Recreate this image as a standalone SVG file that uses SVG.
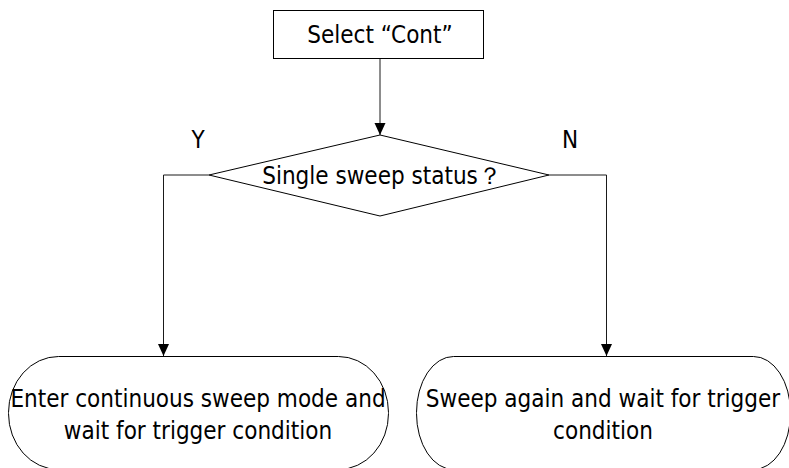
<svg xmlns="http://www.w3.org/2000/svg" width="789" height="468" viewBox="0 0 789 468">
<style>
.shape{fill:#fff;stroke:#000;stroke-width:1}
.conn{fill:none;stroke:#1a1a1a;stroke-width:1}
text{font-family:"DejaVu Sans Condensed","DejaVu Sans",sans-serif;font-stretch:condensed;font-size:24px;fill:#000;text-anchor:middle}
</style>
<defs>
<marker id="arr" markerWidth="12" markerHeight="12" refX="12" refY="6" orient="auto" markerUnits="userSpaceOnUse">
<path d="M0,0.5 L12,6 L0,11.5 Z" fill="#000"/>
</marker>
</defs>
<rect width="789" height="468" fill="#fff"/>
<g id="connectors">
<line class="conn" x1="380" y1="58" x2="380" y2="135" marker-end="url(#arr)"/>
<polyline class="conn" points="209,175 163.5,175 163.5,356" marker-end="url(#arr)"/>
<polyline class="conn" points="549,175 606.5,175 606.5,356" marker-end="url(#arr)"/>
</g>
<g id="start">
<rect class="shape" x="273.5" y="10.5" width="210" height="48"/>
<text x="380" y="43">Select “Cont”</text>
</g>
<g id="decision">
<polygon class="shape" points="380,135 549,175 380,216 209,175"/>
<text x="382" y="184">Single sweep status？</text>
</g>
<text x="198" y="148">Y</text>
<text x="570" y="148">N</text>
<g id="enter-continuous">
<rect class="shape" x="8.5" y="356.5" width="380" height="113" rx="50" ry="56"/>
<text x="198" y="407">Enter continuous sweep mode and</text>
<text x="198" y="439">wait for trigger condition</text>
</g>
<g id="sweep-again">
<rect class="shape" x="416.5" y="356.5" width="374" height="113" rx="37" ry="56"/>
<text x="603" y="407">Sweep again and wait for trigger</text>
<text x="603" y="439">condition</text>
</g>
</svg>
